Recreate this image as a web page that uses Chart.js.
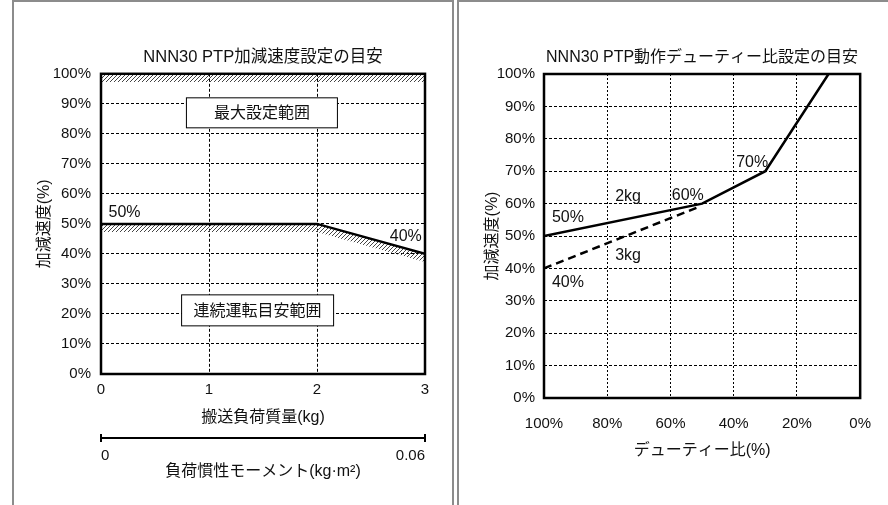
<!DOCTYPE html>
<html>
<head>
<meta charset="utf-8">
<script src="https://cdn.jsdelivr.net/npm/chart.js@4.4.1/dist/chart.umd.min.js"></script>
<style>
html, body { margin: 0; padding: 0; background: #fff; }
#wrap { position: relative; width: 888px; height: 505px; overflow: hidden; }
.frame { position: absolute; border: 2px solid #8c8c8c; }
canvas { position: absolute; top: 0; }
</style>
</head>
<body>
<div id="wrap">
  <div class="frame" style="left:12px;top:0;width:438px;height:520px"></div>
  <div class="frame" style="left:457px;top:0;width:440px;height:520px"></div>
  <canvas id="accel" width="450" height="505" style="left:0"></canvas>
  <canvas id="duty" width="444" height="505" style="left:444px"></canvas>
</div>
<script>
/* ===== データ ===== */
// 左: 加減速度設定の目安
const loadKg = [0, 2, 3];
const accelLimit = [50, 50, 40];
const accelHatchLow = [47.3, 47.3, 37.3];
const maxBandKg = [0, 3];
const maxBandTop = [100, 100];
const maxBandLow = [97.3, 97.3];
const inertiaTicks = [0, 0.06];
const inertiaLabels = ['0', '0.06'];

// 右: 動作デューティー比設定の目安
const duty2kg = [100, 50, 30, 10];
const accel2kg = [50, 60, 70, 100];
const duty3kg = [100, 51];
const accel3kg = [40, 59];

const FONT = '"Liberation Sans", "Noto Sans CJK JP", sans-serif';
Chart.defaults.font.family = FONT;
Chart.defaults.color = '#111';

const pts = (xs, ys) => xs.map((x, i) => ({ x: x, y: ys[i] }));

function hatch() {
  const c = document.createElement('canvas');
  c.width = 4; c.height = 4;
  const g = c.getContext('2d');
  g.strokeStyle = '#444';
  g.lineWidth = 1;
  g.beginPath();
  g.moveTo(0, 4); g.lineTo(4, 0);
  g.moveTo(-1, 1); g.lineTo(1, -1);
  g.moveTo(3, 5); g.lineTo(5, 3);
  g.stroke();
  return g.createPattern(c, 'repeat');
}

/* 枠・注記・第2軸の端 */
const notesPlugin = {
  id: 'notes',
  afterDraw(chart, args, opts) {
    const { ctx, chartArea: a, scales } = chart;
    const sx = scales.x, sy = scales.y;
    ctx.save();
    ctx.strokeStyle = '#000';
    ctx.lineWidth = 2.5;
    ctx.strokeRect(a.left, a.top, a.right - a.left, a.bottom - a.top);

    ctx.font = '16px ' + FONT;
    ctx.fillStyle = '#111';
    ctx.textBaseline = 'middle';
    (opts.labels || []).forEach(l => {
      ctx.textAlign = l.align || 'left';
      ctx.fillText(l.text, sx.getPixelForValue(l.x), sy.getPixelForValue(l.y));
    });
    (opts.boxes || []).forEach(b => {
      const cx = sx.getPixelForValue(b.x), cy = sy.getPixelForValue(b.y);
      ctx.fillStyle = '#fff';
      ctx.fillRect(cx - b.w / 2, cy - b.h / 2, b.w, b.h);
      ctx.lineWidth = 1;
      ctx.strokeStyle = '#000';
      ctx.strokeRect(cx - b.w / 2, cy - b.h / 2, b.w, b.h);
      ctx.fillStyle = '#111';
      ctx.textAlign = 'center';
      ctx.fillText(b.text, cx, cy + 1);
    });

    const s2 = scales.x2;
    if (s2) {
      ctx.lineWidth = 2;
      ctx.strokeStyle = '#000';
      inertiaTicks.forEach(v => {
        const px = s2.getPixelForValue(v);
        ctx.beginPath();
        ctx.moveTo(px, s2.top - 4);
        ctx.lineTo(px, s2.top + 4);
        ctx.stroke();
      });
    }
    ctx.restore();
  }
};

const pattern = hatch();

/* ===== 左グラフ ===== */
new Chart(document.getElementById('accel'), {
  type: 'line',
  data: {
    datasets: [
      { data: pts(loadKg, accelLimit), borderColor: '#000', borderWidth: 2.5, pointRadius: 0, fill: false, order: 0 },
      { data: pts(loadKg, accelHatchLow), borderWidth: 0, pointRadius: 0, fill: 0, backgroundColor: pattern, order: 1 },
      { data: pts(maxBandKg, maxBandTop), borderWidth: 0, pointRadius: 0, fill: false, order: 1 },
      { data: pts(maxBandKg, maxBandLow), borderWidth: 0, pointRadius: 0, fill: 2, backgroundColor: pattern, order: 1 }
    ]
  },
  options: {
    responsive: false,
    animation: false,
    layout: { padding: { left: 30, right: 25, top: 0, bottom: 17 } },
    plugins: {
      legend: { display: false },
      tooltip: { enabled: false },
      title: {
        display: true, fullSize: false,
        text: 'NNN30 PTP加減速度設定の目安',
        font: { size: 16.5, weight: 'normal' }, color: '#111',
        padding: { top: 48, bottom: 6 }
      },
      notes: {
        labels: [
          { text: '50%', x: 0.07, y: 53.7 },
          { text: '40%', x: 2.97, y: 45.7, align: 'right' }
        ],
        boxes: [
          { text: '最大設定範囲', x: 1.49, y: 87, w: 151, h: 30 },
          { text: '連続運転目安範囲', x: 1.45, y: 21.2, w: 152, h: 31 }
        ]
      }
    },
    scales: {
      x: {
        type: 'linear', min: 0, max: 3, weight: 0,
        ticks: { stepSize: 1, padding: 7, font: { size: 15 } },
        grid: { color: '#000', lineWidth: 1, drawTicks: false },
        border: { display: false, dash: [3, 2] },
        title: { display: true, text: '搬送負荷質量(kg)', font: { size: 16 }, padding: { top: 0, bottom: 10.4 } },
        afterFit: s => { s.height = 64; }
      },
      x2: {
        type: 'linear', position: 'bottom', min: 0, max: 0.06, weight: 1,
        afterBuildTicks: s => { s.ticks = inertiaTicks.map(v => ({ value: v })); },
        ticks: { padding: 9, align: 'inner', font: { size: 15 }, callback: (v, i) => inertiaLabels[i] },
        grid: { display: false, drawOnChartArea: false, drawTicks: false },
        border: { display: true, color: '#000', width: 2 },
        title: { display: true, text: '負荷慣性モーメント(kg·m²)', font: { size: 16 }, padding: { top: 0, bottom: 6.4 } },
        afterFit: s => { s.height = 50; }
      },
      y: {
        min: 0, max: 100,
        ticks: { stepSize: 10, padding: 10, font: { size: 15 }, callback: v => v + '%' },
        grid: { color: '#000', lineWidth: 1, drawTicks: false },
        border: { display: false, dash: [3, 2] },
        title: { display: true, text: '加減速度(%)', font: { size: 16 }, padding: { top: 5.4, bottom: 0 } },
        afterFit: s => { s.width = 71; }
      }
    }
  },
  plugins: [notesPlugin]
});

/* ===== 右グラフ ===== */
new Chart(document.getElementById('duty'), {
  type: 'line',
  data: {
    datasets: [
      { data: pts(duty2kg, accel2kg), borderColor: '#000', borderWidth: 2.5, pointRadius: 0, fill: false },
      { data: pts(duty3kg, accel3kg), borderColor: '#000', borderWidth: 2.5, borderDash: [8, 5], pointRadius: 0, fill: false }
    ]
  },
  options: {
    responsive: false,
    animation: false,
    layout: { padding: { left: 30, right: 20, top: 0, bottom: 37 } },
    plugins: {
      legend: { display: false },
      tooltip: { enabled: false },
      title: {
        display: true, fullSize: false,
        text: 'NNN30 PTP動作デューティー比設定の目安',
        font: { size: 16, weight: 'normal' }, color: '#111',
        padding: { top: 48.4, bottom: 6.4 }
      },
      notes: {
        labels: [
          { text: '50%', x: 97.5, y: 55.6 },
          { text: '2kg', x: 77.5, y: 62.3 },
          { text: '60%', x: 59.6, y: 62.6 },
          { text: '70%', x: 39.2, y: 72.8 },
          { text: '3kg', x: 77.5, y: 44.1 },
          { text: '40%', x: 97.5, y: 35.5 }
        ]
      }
    },
    scales: {
      x: {
        type: 'linear', min: 0, max: 100, reverse: true,
        ticks: { stepSize: 20, padding: 17, font: { size: 15 }, callback: v => v + '%' },
        grid: { color: '#000', lineWidth: 1, drawTicks: false },
        border: { display: false, dash: [2, 2] },
        title: { display: true, text: 'デューティー比(%)', font: { size: 16 }, padding: { top: 0, bottom: 7.4 } },
        afterFit: s => { s.height = 70; }
      },
      y: {
        min: 0, max: 100,
        ticks: { stepSize: 10, padding: 9, font: { size: 15 }, callback: v => v + '%' },
        grid: { color: '#000', lineWidth: 1, drawTicks: false },
        border: { display: false, dash: [3, 2] },
        title: { display: true, text: '加減速度(%)', font: { size: 16 }, padding: { top: 9, bottom: 0 } },
        afterFit: s => { s.width = 70; }
      }
    }
  },
  plugins: [notesPlugin]
});
</script>
</body>
</html>
